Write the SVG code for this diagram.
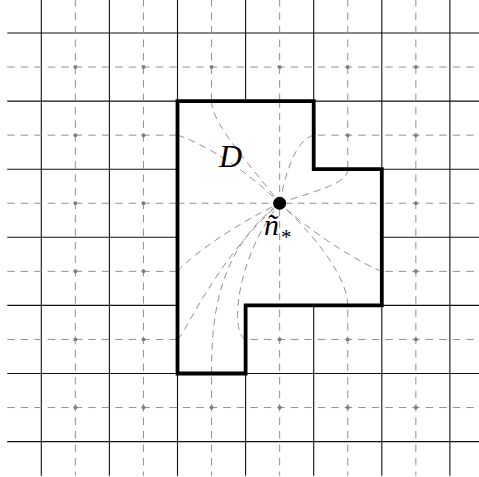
<svg xmlns="http://www.w3.org/2000/svg" width="479" height="477" viewBox="0 0 479 477">
<style>
.solid{stroke:#111;stroke-width:1.1;fill:none}
.dash{stroke:#909090;stroke-width:1;stroke-dasharray:7.5 6;fill:none}
.flow{stroke:#858585;stroke-width:0.9;stroke-dasharray:7 5;fill:none}
.pt{fill:#808080}
.lbl{font-family:"Liberation Serif","DejaVu Serif",serif;font-style:italic;fill:#000}
</style>
<rect width="479" height="477" fill="#fff"/>
<g id="grid-solid" class="solid">
<path d="M7.25,33H484M7.25,101.1H484M7.25,169.2H484M7.25,237.3H484M7.25,305.4H484M7.25,373.5H484M7.25,441.6H484"/>
<path d="M41.3,-1V475.65M109.4,-1V475.65M177.5,-1V475.65M245.6,-1V475.65M313.7,-1V475.65M381.8,-1V475.65M449.9,-1V475.65"/>
</g>
<g id="grid-dashed" class="dash">
<path d="M7.25,67.05H484M7.25,135.15H484M7.25,203.25H484M7.25,271.35H484M7.25,339.45H484M7.25,407.55H484"/>
<path d="M75.35,-1V475.65M143.45,-1V475.65M211.55,-1V475.65M279.65,-1V475.65M347.75,-1V475.65M415.85,-1V475.65"/>
</g>
<g id="grid-points" class="pt">
<circle cx="75.35" cy="67.05" r="2"/><circle cx="143.45" cy="67.05" r="2"/><circle cx="211.55" cy="67.05" r="2"/><circle cx="279.65" cy="67.05" r="2"/><circle cx="347.75" cy="67.05" r="2"/><circle cx="415.85" cy="67.05" r="2"/>
<circle cx="75.35" cy="135.15" r="2"/><circle cx="143.45" cy="135.15" r="2"/><circle cx="347.75" cy="135.15" r="2"/><circle cx="415.85" cy="135.15" r="2"/>
<circle cx="75.35" cy="203.25" r="2"/><circle cx="143.45" cy="203.25" r="2"/><circle cx="415.85" cy="203.25" r="2"/>
<circle cx="75.35" cy="271.35" r="2"/><circle cx="143.45" cy="271.35" r="2"/><circle cx="415.85" cy="271.35" r="2"/>
<circle cx="75.35" cy="339.45" r="2"/><circle cx="143.45" cy="339.45" r="2"/><circle cx="279.65" cy="339.45" r="2"/><circle cx="347.75" cy="339.45" r="2"/><circle cx="415.85" cy="339.45" r="2"/>
<circle cx="75.35" cy="407.55" r="2"/><circle cx="143.45" cy="407.55" r="2"/><circle cx="211.55" cy="407.55" r="2"/><circle cx="279.65" cy="407.55" r="2"/><circle cx="347.75" cy="407.55" r="2"/><circle cx="415.85" cy="407.55" r="2"/>
</g>
<g id="domain-fill">
<path d="M177.5,101.1H313.7V169.2H381.8V305.4H245.6V373.5H177.5Z" fill="#fff"/>
</g>
<g id="connectors" class="flow">
<path d="M279.65,101.1V305.4"/>
<path d="M177.5,203.25H381.8"/>
<path d="M211.55,101.1C211.55,125 255,170 279.65,203.25"/>
<path d="M177.5,135.15C200,142 245,168 279.65,203.25"/>
<path d="M313.7,135.15C295,140 285,175 279.65,203.25"/>
<path d="M347.75,169.2C347.75,185 310,192 279.65,203.25"/>
<path d="M381.8,271.35C365,265 320,240 279.65,203.25"/>
<path d="M347.75,305.4C347.75,280 320,240 279.65,203.25"/>
<path d="M177.5,271.35C195,252 240,222 279.65,203.25"/>
<path d="M177.5,339.45C186,333 215,260 279.65,203.25"/>
<path d="M211.55,373.5C211.55,315 218,250 279.65,203.25"/>
<path d="M245.6,339.45C230,334 235,260 279.65,203.25"/>
</g>
<g id="domain">
<path d="M177.5,101.1H313.7V169.2H381.8V305.4H245.6V373.5H177.5Z" fill="none" stroke="#000" stroke-width="3.8" stroke-linejoin="miter"/>
<text class="lbl" x="219" y="166.5" font-size="32">D</text>
</g>
<g id="source">
<circle cx="279.65" cy="203.25" r="6.5" fill="#000"/>
<text class="lbl" x="264" y="235" font-size="30">ñ<tspan font-style="normal" font-size="21" dx="2" dy="9">*</tspan></text>
</g>
</svg>
